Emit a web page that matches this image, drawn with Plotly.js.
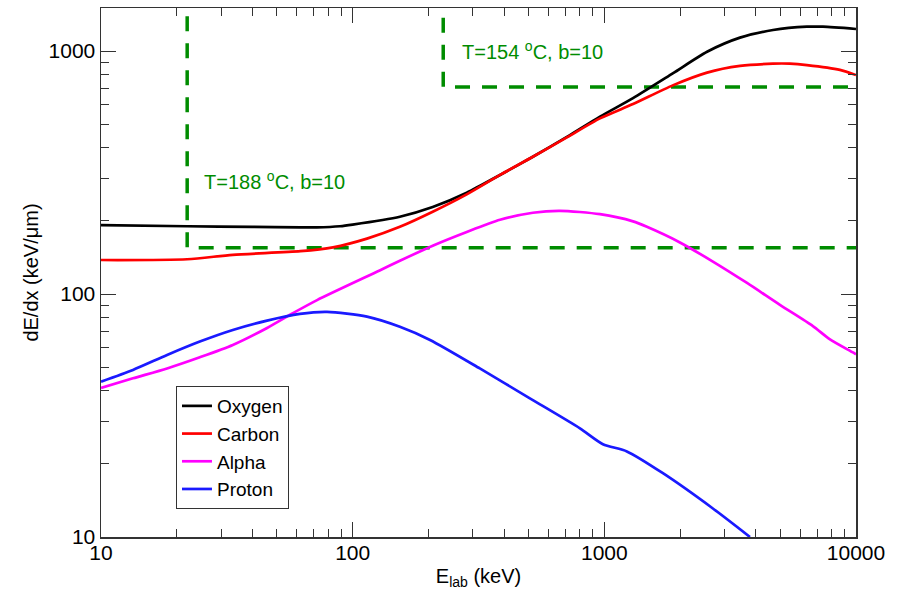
<!DOCTYPE html>
<html>
<head>
<meta charset="utf-8">
<script src="https://cdn.plot.ly/plotly-3.0.1.min.js"></script>
<style>html,body{margin:0;padding:0;background:#fff;}#chart{width:901px;height:592px;}</style>
</head>
<body>
<div id="chart"></div>
<script>
// Energy (keV) and stopping power dE/dx (keV/um)
const oxygenE    = [10, 22, 40, 62, 72, 89, 100, 154, 208, 284, 385, 520, 710, 961, 1300, 1870, 2560, 3460, 4680, 6380, 7390, 10000];
const oxygenDEDX = [192, 190, 189, 188, 188, 190, 193, 208, 228, 261, 309, 367, 443, 537, 640, 809, 993, 1135, 1220, 1259, 1259, 1232];

const carbonE    = [10, 22, 33.4, 62, 83.5, 114, 154, 208, 284, 385, 520, 710, 961, 1300, 1870, 2560, 3460, 4680, 5460, 6380, 8630, 10000];
const carbonDEDX = [138, 139, 145, 150, 155.6, 169, 189, 218, 257, 309, 367, 441, 528, 605, 722, 815, 868, 887, 887, 875, 836, 796];

const alphaE    = [10, 13.4, 18.3, 24.7, 33.4, 45.7, 57.9, 72.2, 128, 154, 208, 284, 385, 520, 666, 961, 1300, 1476, 1997, 2700, 3690, 4985, 6740, 7880, 9720, 10000];
const alphaDEDX = [41.1, 45, 49.4, 54.9, 61.7, 72.5, 83.4, 94.4, 125, 137, 158, 180, 202, 216, 220, 213, 199, 189, 163, 136, 111, 90.2, 73.8, 65.1, 57.5, 56.5];

const protonE    = [10, 13.4, 18.3, 24.7, 33.4, 45.7, 61.7, 79.1, 114, 154, 203, 320, 506, 800, 987, 1229, 1709, 2700, 3790];
const protonDEDX = [43.6, 48.7, 56.1, 63.7, 71.1, 77.7, 82.8, 84.4, 80.7, 73.3, 64.7, 49.4, 37.2, 28, 24.1, 22.5, 18.3, 13.1, 10];

// Threshold markers (dashed green)
const thr188E    = [22, 22, 10000];
const thr188DEDX = [1390, 155, 155];
const thr154E    = [229, 229, 10000];
const thr154DEDX = [1370, 711, 711];

const seriesNames  = ["Oxygen", "Carbon", "Alpha", "Proton"];
const seriesColors = ["#000000", "#ff0000", "#ff00ff", "#1a1aff"];

const xTickVals = [10, 100, 1000, 10000];
const xTickText = ["10", "100", "1000", "10000"];
const yTickVals = [10, 100, 1000];
const yTickText = ["10", "100", "1000"];

const FONT = "Liberation Sans, Arial, Helvetica, sans-serif";
const GREEN = "rgb(0,140,0)";

const xs = [oxygenE, carbonE, alphaE, protonE];
const ys = [oxygenDEDX, carbonDEDX, alphaDEDX, protonDEDX];

const traces = [];
traces.push({x: thr188E, y: thr188DEDX, mode: "lines", showlegend: false, hoverinfo: "skip",
  line: {color: GREEN, width: 3.5, dash: "15px,12px"}});
traces.push({x: thr154E, y: thr154DEDX, mode: "lines", showlegend: false, hoverinfo: "skip",
  line: {color: GREEN, width: 3.5, dash: "15px,12px"}});
for (let i = 0; i < seriesNames.length; i++) {
  traces.push({x: xs[i], y: ys[i], name: seriesNames[i], mode: "lines",
    line: {color: seriesColors[i], width: 2.7, shape: "spline", smoothing: 0.7}});
}

const axisCommon = {
  type: "log",
  showgrid: false,
  zeroline: false,
  showline: true,
  linecolor: "#333",
  linewidth: 1.5,
  mirror: "allticks",
  ticks: "inside",
  ticklen: 15,
  tickwidth: 1,
  tickcolor: "#333",
  tickfont: {family: FONT, size: 21, color: "#000"},
  minor: {ticks: "inside", ticklen: 8, tickwidth: 1, tickcolor: "#333", dtick: "D1", showgrid: false}
};

const layout = {
  width: 901, height: 592,
  margin: {l: 101, r: 45, t: 8, b: 55},
  paper_bgcolor: "#fff", plot_bgcolor: "#fff",
  font: {family: FONT, color: "#000"},
  xaxis: Object.assign({}, axisCommon, {
    range: [1, 4],
    tickvals: xTickVals, ticktext: xTickText,
    ticklabelstandoff: -4,
    title: {text: "E<sub>lab</sub> (keV)", font: {family: FONT, size: 20}, standoff: 6}
  }),
  yaxis: Object.assign({}, axisCommon, {
    range: [1, 3.177],
    tickvals: yTickVals, ticktext: yTickText,
    ticklabelstandoff: 0,
    title: {text: "dE/dx (keV/\u03bcm)", font: {family: FONT, size: 20}, standoff: 4}
  }),
  legend: {
    x: 0.0993, y: 0.2854, xanchor: "left", yanchor: "top",
    bgcolor: "#fff", bordercolor: "#333", borderwidth: 1,
    font: {family: FONT, size: 19, color: "#000"},
    tracegroupgap: 0
  },
  annotations: [
    {xref: "paper", yref: "paper", x: 0.1338, y: 0.673, xanchor: "left", yanchor: "middle",
     text: "T=188 <sup>o</sup>C, b=10", showarrow: false, font: {family: FONT, size: 20, color: GREEN}},
    {xref: "paper", yref: "paper", x: 0.4755, y: 0.9206, xanchor: "left", yanchor: "middle",
     text: "T=154 <sup>o</sup>C, b=10", showarrow: false, font: {family: FONT, size: 20, color: GREEN}}
  ]
};

Plotly.newPlot("chart", traces, layout, {displayModeBar: false, staticPlot: true});
</script>
</body>
</html>
